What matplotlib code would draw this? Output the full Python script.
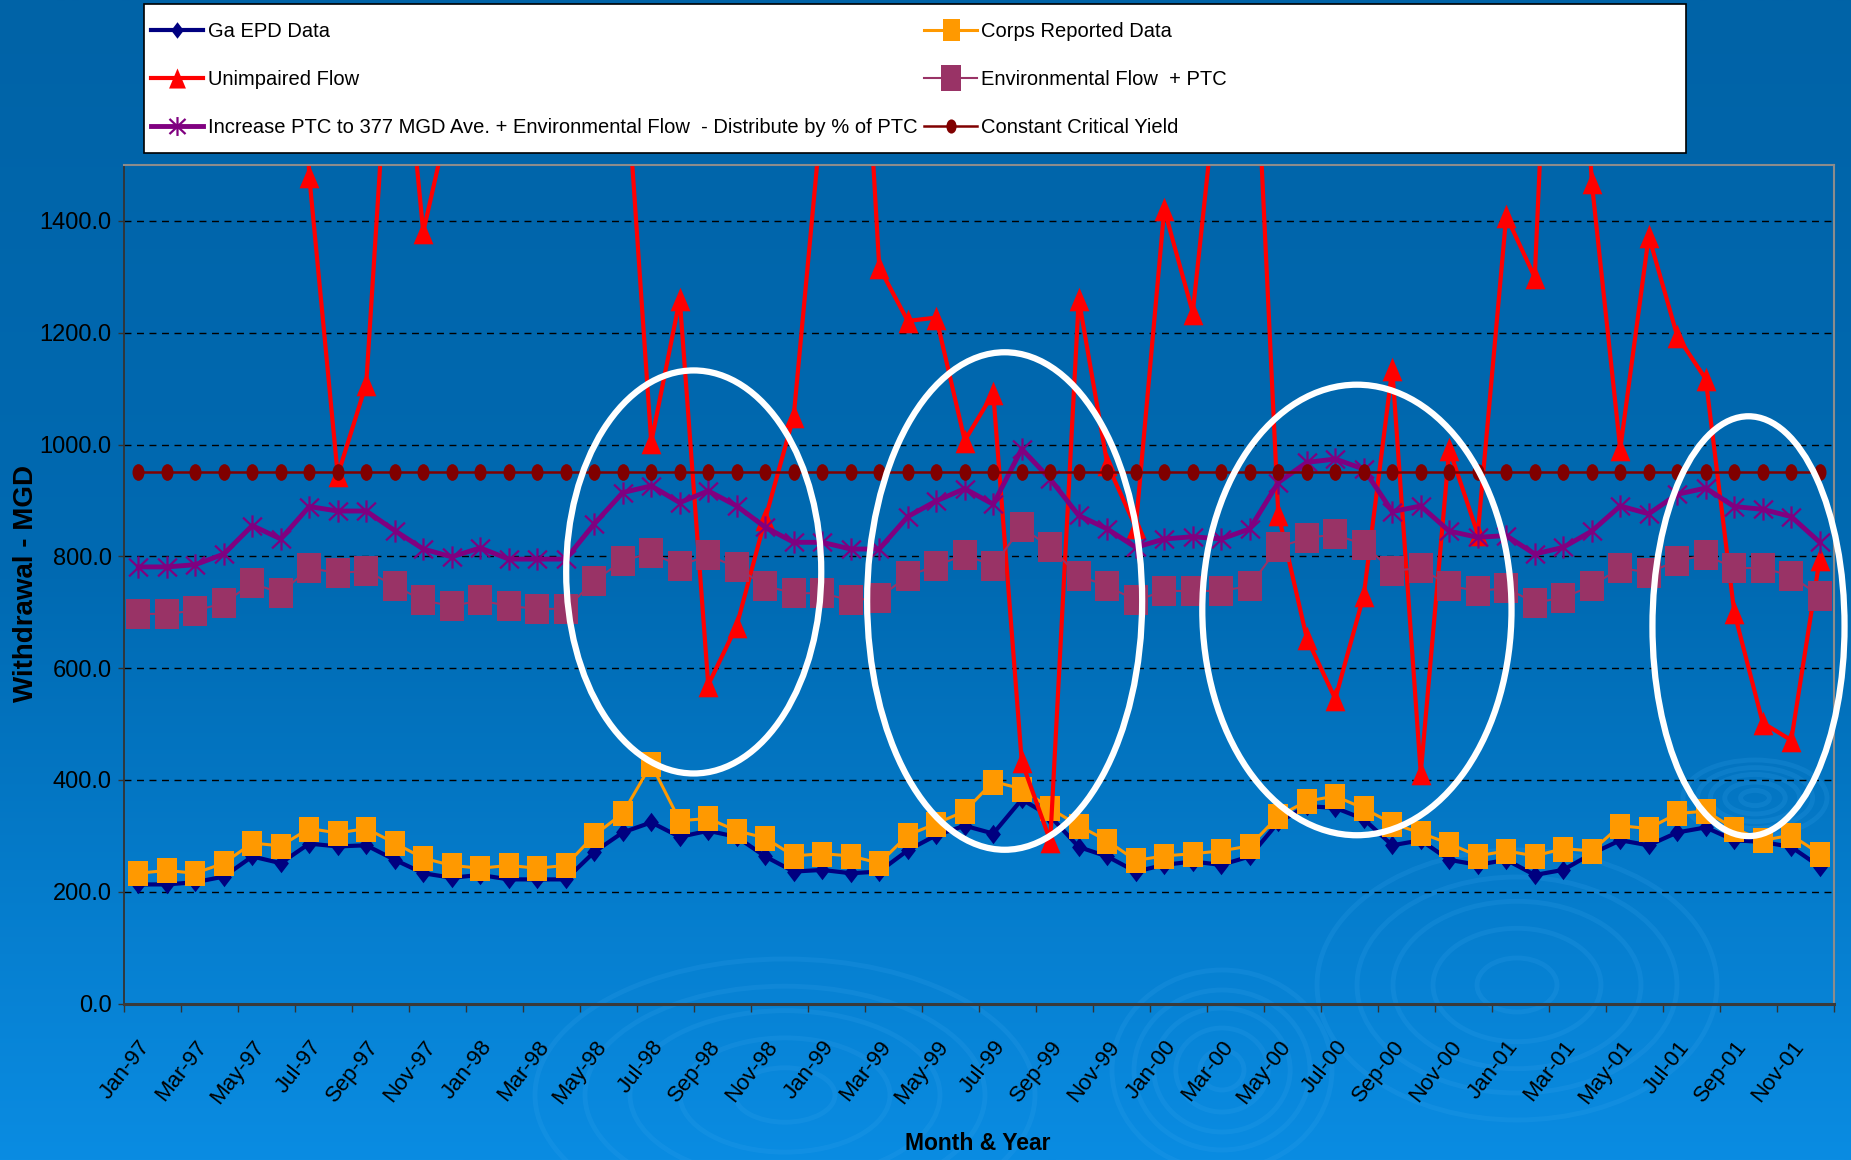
import numpy as np
import matplotlib
matplotlib.use("Agg")
from matplotlib import pyplot as plt
from matplotlib.path import Path
from matplotlib.patches import Ellipse, Rectangle
from matplotlib.ticker import FormatStrFormatter

months = ["Jan", "Feb", "Mar", "Apr", "May", "Jun",
          "Jul", "Aug", "Sep", "Oct", "Nov", "Dec"]
years = ["97", "98", "99", "00", "01"]
month_labels = [m + "-" + y for y in years for m in months]

# monthly withdrawals, MGD (Jan-97 .. Dec-01)
ga_epd = [213, 213, 217, 227, 263, 251, 286, 281, 283, 257, 233, 225,
          230, 222, 222, 222, 271, 306, 324, 298, 309, 298, 263, 236,
          239, 233, 236, 274, 301, 318, 304, 365, 335, 280, 263, 236,
          248, 254, 248, 263, 324, 353, 350, 330, 283, 292, 257, 248,
          257, 230, 239, 268, 292, 283, 306, 315, 292, 289, 280, 245]

corps = [233, 238, 233, 251, 287, 282, 313, 305, 313, 287, 260, 247,
         242, 247, 242, 247, 301, 340, 428, 327, 331, 309, 296, 264,
         268, 264, 251, 301, 322, 344, 397, 384, 349, 318, 291, 256,
         264, 268, 273, 282, 335, 362, 371, 349, 322, 305, 286, 264,
         273, 264, 277, 273, 318, 313, 340, 344, 313, 292, 301, 268]

unimpaired = [3200, 4100, 5200, 3900, 2700, 2600, 1480, 945, 1109, 1910, 1380, 1606,
              2100, 2900, 3300, 2600, 2200, 1750, 1004, 1260, 570, 676, 867, 1051,
              1600, 2200, 1317, 1221, 1227, 1007, 1092, 433, 291, 1260, 965, 852,
              1421, 1236, 1716, 1950, 876, 654, 545, 730, 1135, 412, 992, 840,
              1409, 1299, 2450, 1469, 992, 1373, 1194, 1117, 700, 502, 471, 796]

env_flow = [697, 697, 703, 716, 752, 734, 779, 770, 774, 747, 721, 711,
            721, 711, 706, 706, 756, 792, 806, 783, 802, 780, 747, 734,
            734, 721, 726, 765, 783, 803, 783, 852, 816, 765, 747, 721,
            738, 738, 738, 747, 816, 833, 839, 821, 774, 779, 747, 738,
            743, 717, 726, 747, 779, 771, 792, 802, 779, 779, 765, 729]

increase_ptc = [781, 781, 785, 804, 855, 831, 889, 881, 881, 846, 813, 799,
                815, 795, 795, 795, 858, 914, 926, 896, 917, 890, 852, 825,
                825, 813, 813, 871, 899, 921, 893, 992, 938, 873, 849, 816,
                831, 835, 831, 849, 932, 968, 974, 956, 880, 890, 845, 834,
                837, 804, 816, 845, 890, 876, 911, 922, 889, 884, 871, 825]

critical_yield = [950] * 60

FONT = "Liberation Sans"

# slightly tall marker shapes
sq = Path([(-0.8, -1), (0.8, -1), (0.8, 1), (-0.8, 1), (-0.8, -1)], closed=True)
dia = Path([(0, 1), (0.76, 0), (0, -1), (-0.76, 0), (0, 1)], closed=True)
tri = Path([(0, 1), (0.84, -1), (-0.84, -1), (0, 1)], closed=True)
circ = Path.unit_circle()
dot = Path(circ.vertices * np.array([0.72, 1.0]), circ.codes)
ast = Path([(0, -1), (0, 1), (-0.85, -0.8), (0.85, 0.8), (-0.85, 0.8), (0.85, -0.8)],
           [Path.MOVETO, Path.LINETO, Path.MOVETO, Path.LINETO, Path.MOVETO, Path.LINETO])

W, H = 1851, 1160
fig = plt.figure(figsize=(W / 100, H / 100), dpi=100)

# blue slide background
bg = fig.add_axes([0, 0, 1, 1], zorder=-10)
t = np.linspace(0, 1, 400)
top = np.array([0, 99, 167]) / 255
mid = np.array([0, 106, 178]) / 255
bot = np.array([10, 140, 226]) / 255
w = np.clip((t - 0.5) / 0.5, 0, 1)[:, None]
cols = np.where(t[:, None] < 0.5, top + (mid - top) * (t[:, None] / 0.5), mid + (bot - mid) * w)
bg.imshow(cols[:, None, :], aspect="auto", extent=[0, W, H, 0])
for cx, cy, rx, ry in [(1517, 985, 200, 135), (785, 1095, 250, 136),
                       (1222, 1070, 110, 100), (1755, 798, 72, 38)]:
    for k in (0.2, 0.42, 0.62, 0.8, 1.0):
        bg.add_patch(Ellipse((cx, cy), 2 * rx * k, 2 * ry * k, fill=False,
                             ec="#3aa6ee", lw=3.5, alpha=0.18))
bg.set_xlim(0, W)
bg.set_ylim(H, 0)
bg.axis("off")

ax = fig.add_axes([124 / W, 1 - 1003.5 / H, 1710 / W, 838.5 / H])
ax.patch.set_alpha(0)

x = np.arange(len(month_labels))
l1, = ax.plot(x, ga_epd, color="#000080", lw=3, marker=dia, ms=14, mew=0)
l2, = ax.plot(x, corps, color="#FF9900", lw=2.2, marker=sq, ms=18, mew=0)
l3, = ax.plot(x, unimpaired, color="#FF0000", lw=3, marker=tri, ms=17, mew=0)
l4, = ax.plot(x, env_flow, color="#993366", lw=1.5, marker=sq, ms=22, mew=0)
l5, = ax.plot(x, increase_ptc, color="#800080", lw=3.5, marker=ast, ms=16,
              mfc="none", mec="#800080", mew=1.6)
l6, = ax.plot(x, critical_yield, color="#800000", lw=1.8, marker=dot, ms=12, mew=0)

# highlight rings
for cx, cy, ew, eh in [(19.49, 772, 8.95, 721), (30.40, 720, 9.65, 890),
                       (42.76, 704, 10.85, 806), (56.5, 675, 6.74, 751)]:
    ax.add_patch(Ellipse((cx, cy), ew, eh, fill=False, ec="white", lw=4.5,
                         clip_on=False, zorder=10))

ax.set_xlim(-0.5, 59.5)
ax.set_ylim(0, 1500)
ax.set_yticks(np.arange(0, 1401, 200))
ax.yaxis.set_major_formatter(FormatStrFormatter("%.1f"))
ax.yaxis.grid(True, color="black", linestyle=(0, (5, 4)), lw=1)
ax.set_axisbelow(True)

ax.set_xticks(x[::2])
ax.set_xticklabels(month_labels[::2], rotation=52, ha="right", va="top",
                   rotation_mode="anchor", fontsize=16, family=FONT)
ax.set_xticks(np.arange(-0.5, 60, 2), minor=True)
ax.tick_params(axis="x", which="major", length=0, pad=24)
ax.tick_params(axis="x", which="minor", length=6, width=1, direction="out", color="#333333")
ax.tick_params(axis="y", length=4, width=1, direction="out", color="#333333", pad=5,
               labelsize=17)
for lab in ax.get_yticklabels():
    lab.set_family(FONT)

ax.spines["left"].set_color("#333333")
ax.spines["left"].set_linewidth(1.3)
ax.spines["bottom"].set_color("#3a3a3a")
ax.spines["bottom"].set_linewidth(2.2)
for s in ("top", "right"):
    ax.spines[s].set_color("#8c8c8c")
    ax.spines[s].set_linewidth(1.5)

fig.text(26 / W, 1 - 584 / H, "Withdrawal - MGD", rotation=90, ha="center", va="center",
         fontsize=20, fontweight="bold", family=FONT)
fig.text(978 / W, 1 - 1143 / H, "Month & Year", ha="center", va="center",
         fontsize=16.5, fontweight="bold", family=FONT)

# legend box
fig.add_artist(Rectangle((144 / W, 1 - 153 / H), 1542 / W, 149 / H, transform=fig.transFigure,
                         fc="white", ec="black", lw=1.2))
leg = fig.legend([l1, l3, l5, l2, l4, l6],
                 ["Ga EPD Data", "Unimpaired Flow",
                  "Increase PTC to 377 MGD Ave. + Environmental Flow  - Distribute by % of PTC",
                  "Corps Reported Data", "Environmental Flow  + PTC", "Constant Critical Yield"],
                 ncol=2, frameon=False, loc="upper left", bbox_to_anchor=(135 / W, 1 - 5.5 / H),
                 prop={"family": FONT, "size": 14.5}, handlelength=2.6, handletextpad=0.2,
                 columnspacing=0.36, labelspacing=1.45, borderpad=0.3, markerscale=0.85,
                 numpoints=1)
leg.set_zorder(20)

fig.savefig("out.png", dpi=100)
